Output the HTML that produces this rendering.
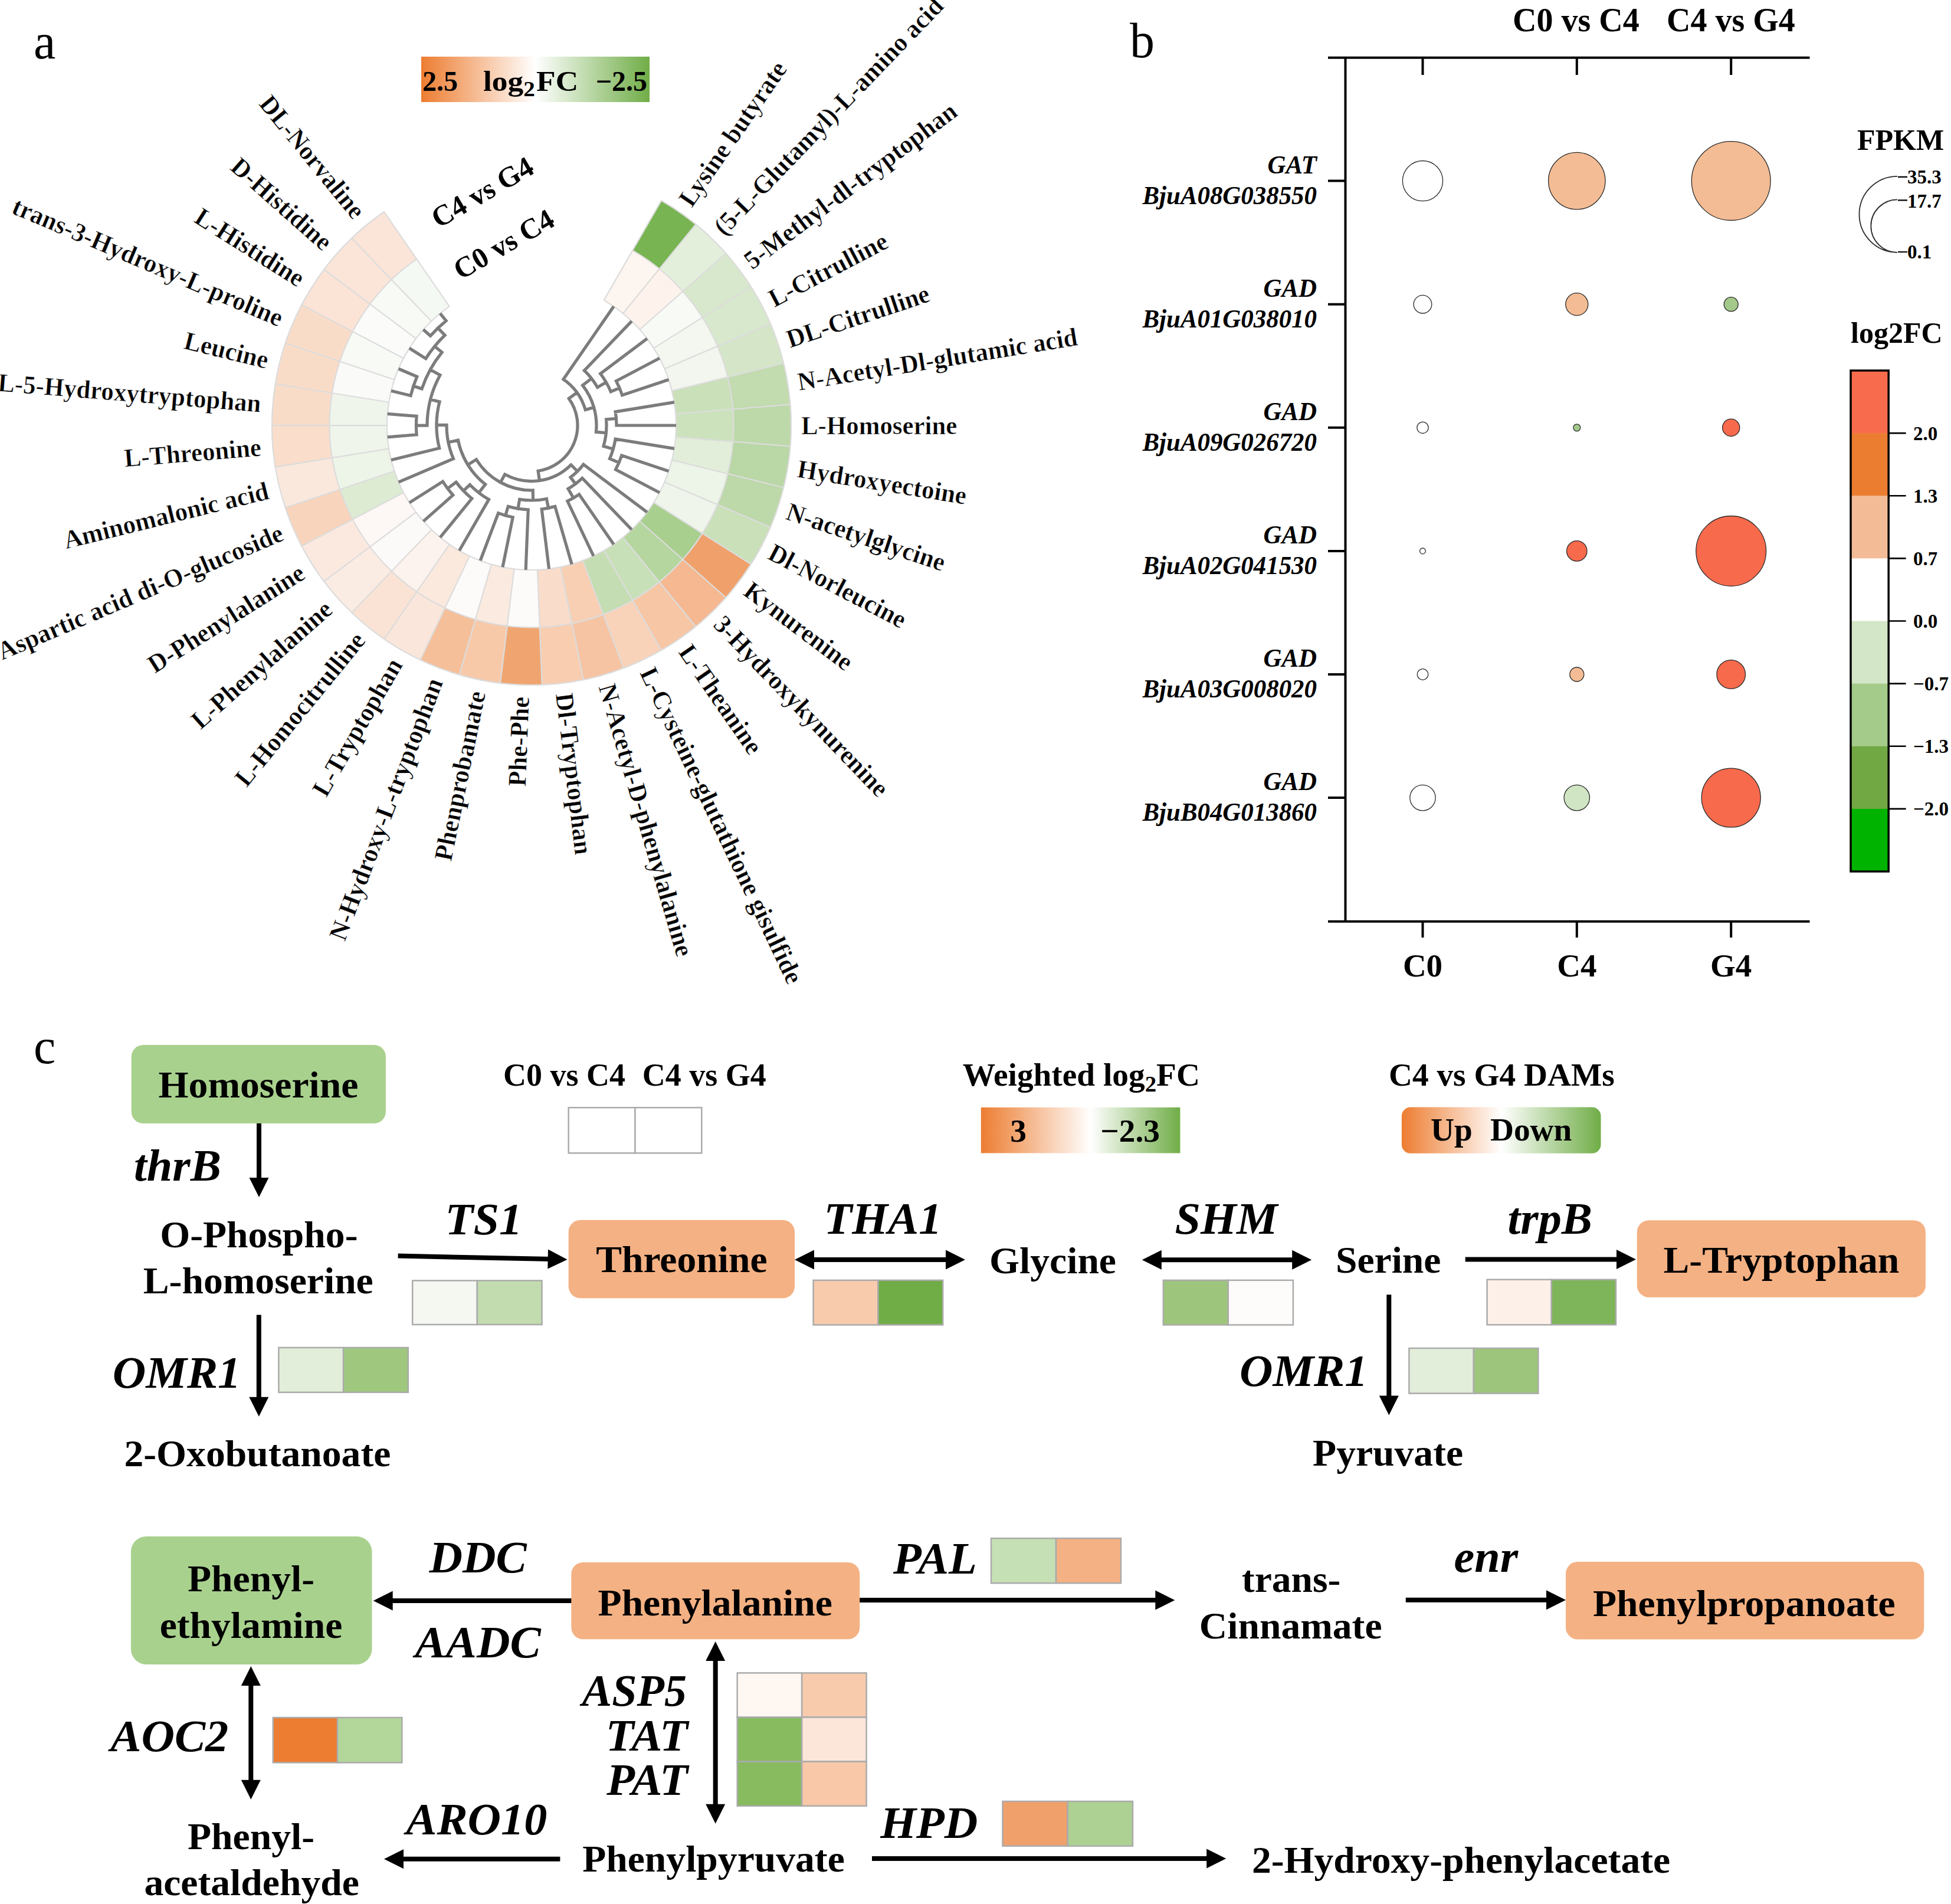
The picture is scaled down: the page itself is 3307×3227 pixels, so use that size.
<!DOCTYPE html>
<html><head><meta charset="utf-8"><title>Figure</title>
<style>
html,body{margin:0;padding:0;background:#fff;}
svg{display:block;}
text{font-family:"Liberation Serif",serif;font-weight:bold;fill:#000;}
.lb{stroke:#fff;stroke-width:0.6px;}
</style></head><body>
<svg width="3307" height="3227" viewBox="0 0 3307 3227">
<rect width="3307" height="3227" fill="#fff"/>
<path d="M1072.28 424.4A342.5 342.5 0 0 1 1117.63 455.71L1055.96 531.23A245 245 0 0 0 1023.52 508.83Z" fill="#FDF5EF"/>
<path d="M1121.03 339.97A440 440 0 0 1 1179.3 380.19L1117.63 455.71A342.5 342.5 0 0 0 1072.28 424.4Z" fill="#78B452"/>
<path d="M1117.63 455.71A342.5 342.5 0 0 1 1157.38 493.9L1084.39 558.55A245 245 0 0 0 1055.96 531.23Z" fill="#FDF3EC"/>
<path d="M1179.3 380.19A440 440 0 0 1 1230.36 429.25L1157.38 493.9A342.5 342.5 0 0 0 1117.63 455.71Z" fill="#E3EFDB"/>
<path d="M1157.38 493.9A342.5 342.5 0 0 1 1190.49 537.96L1108.08 590.07A245 245 0 0 0 1084.39 558.55Z" fill="#F8FAF6"/>
<path d="M1230.36 429.25A440 440 0 0 1 1272.89 485.85L1190.49 537.96A342.5 342.5 0 0 0 1157.38 493.9Z" fill="#D8E8CC"/>
<path d="M1190.49 537.96A342.5 342.5 0 0 1 1216.1 586.76L1126.4 624.98A245 245 0 0 0 1108.08 590.07Z" fill="#F3F7EF"/>
<path d="M1272.89 485.85A440 440 0 0 1 1305.8 548.55L1216.1 586.76A342.5 342.5 0 0 0 1190.49 537.96Z" fill="#D8E8CC"/>
<path d="M1216.1 586.76A342.5 342.5 0 0 1 1233.55 639.04L1138.88 662.37A245 245 0 0 0 1126.4 624.98Z" fill="#F2F6EE"/>
<path d="M1305.8 548.55A440 440 0 0 1 1328.22 615.71L1233.55 639.04A342.5 342.5 0 0 0 1216.1 586.76Z" fill="#D5E6C8"/>
<path d="M1233.55 639.04A342.5 342.5 0 0 1 1242.39 693.44L1145.21 701.29A245 245 0 0 0 1138.88 662.37Z" fill="#C9E0B9"/>
<path d="M1328.22 615.71A440 440 0 0 1 1339.57 685.6L1242.39 693.44A342.5 342.5 0 0 0 1233.55 639.04Z" fill="#C2DBAF"/>
<path d="M1242.39 693.44A342.5 342.5 0 0 1 1242.39 748.56L1145.21 740.71A245 245 0 0 0 1145.21 701.29Z" fill="#CCE2BD"/>
<path d="M1339.57 685.6A440 440 0 0 1 1339.57 756.4L1242.39 748.56A342.5 342.5 0 0 0 1242.39 693.44Z" fill="#BDD9A9"/>
<path d="M1242.39 748.56A342.5 342.5 0 0 1 1233.55 802.96L1138.88 779.63A245 245 0 0 0 1145.21 740.71Z" fill="#E2EED9"/>
<path d="M1339.57 756.4A440 440 0 0 1 1328.22 826.29L1233.55 802.96A342.5 342.5 0 0 0 1242.39 748.56Z" fill="#BAD7A6"/>
<path d="M1233.55 802.96A342.5 342.5 0 0 1 1216.1 855.24L1126.4 817.02A245 245 0 0 0 1138.88 779.63Z" fill="#EDF4E8"/>
<path d="M1328.22 826.29A440 440 0 0 1 1305.8 893.45L1216.1 855.24A342.5 342.5 0 0 0 1233.55 802.96Z" fill="#BDD8A9"/>
<path d="M1216.1 855.24A342.5 342.5 0 0 1 1190.49 904.04L1108.08 851.93A245 245 0 0 0 1126.4 817.02Z" fill="#EFF5EB"/>
<path d="M1305.8 893.45A440 440 0 0 1 1272.89 956.15L1190.49 904.04A342.5 342.5 0 0 0 1216.1 855.24Z" fill="#C9E0B9"/>
<path d="M1190.49 904.04A342.5 342.5 0 0 1 1157.38 948.1L1084.39 883.45A245 245 0 0 0 1108.08 851.93Z" fill="#A9CF8F"/>
<path d="M1272.89 956.15A440 440 0 0 1 1230.36 1012.75L1157.38 948.1A342.5 342.5 0 0 0 1190.49 904.04Z" fill="#F0A06A"/>
<path d="M1157.38 948.1A342.5 342.5 0 0 1 1117.63 986.29L1055.96 910.77A245 245 0 0 0 1084.39 883.45Z" fill="#B5D69F"/>
<path d="M1230.36 1012.75A440 440 0 0 1 1179.3 1061.81L1117.63 986.29A342.5 342.5 0 0 0 1157.38 948.1Z" fill="#F5B890"/>
<path d="M1117.63 986.29A342.5 342.5 0 0 1 1072.28 1017.6L1023.52 933.17A245 245 0 0 0 1055.96 910.77Z" fill="#C8E0B8"/>
<path d="M1179.3 1061.81A440 440 0 0 1 1121.03 1102.03L1072.28 1017.6A342.5 342.5 0 0 0 1117.63 986.29Z" fill="#F7C6A5"/>
<path d="M1072.28 1017.6A342.5 342.5 0 0 1 1022.48 1041.23L987.9 950.07A245 245 0 0 0 1023.52 933.17Z" fill="#C4DDB2"/>
<path d="M1121.03 1102.03A440 440 0 0 1 1057.07 1132.39L1022.48 1041.23A342.5 342.5 0 0 0 1072.28 1017.6Z" fill="#F8D2B9"/>
<path d="M1022.48 1041.23A342.5 342.5 0 0 1 969.55 1056.57L950.03 961.04A245 245 0 0 0 987.9 950.07Z" fill="#F8CFB3"/>
<path d="M1057.07 1132.39A440 440 0 0 1 989.06 1152.1L969.55 1056.57A342.5 342.5 0 0 0 1022.48 1041.23Z" fill="#F6C4A3"/>
<path d="M969.55 1056.57A342.5 342.5 0 0 1 914.83 1063.22L910.9 965.8A245 245 0 0 0 950.03 961.04Z" fill="#F9DCCA"/>
<path d="M989.06 1152.1A440 440 0 0 1 918.77 1160.64L914.83 1063.22A342.5 342.5 0 0 0 969.55 1056.57Z" fill="#F8CDB0"/>
<path d="M914.83 1063.22A342.5 342.5 0 0 1 859.76 1061.01L871.5 964.22A245 245 0 0 0 910.9 965.8Z" fill="#FDFBFA"/>
<path d="M918.77 1160.64A440 440 0 0 1 848.03 1157.8L859.76 1061.01A342.5 342.5 0 0 0 914.83 1063.22Z" fill="#F0A570"/>
<path d="M859.76 1061.01A342.5 342.5 0 0 1 805.76 1049.99L832.87 956.34A245 245 0 0 0 871.5 964.22Z" fill="#FBEADF"/>
<path d="M848.03 1157.8A440 440 0 0 1 778.65 1143.65L805.76 1049.99A342.5 342.5 0 0 0 859.76 1061.01Z" fill="#F7C9A9"/>
<path d="M805.76 1049.99A342.5 342.5 0 0 1 754.22 1030.46L796.01 942.36A245 245 0 0 0 832.87 956.34Z" fill="#FCFBFA"/>
<path d="M778.65 1143.65A440 440 0 0 1 712.44 1118.55L754.22 1030.46A342.5 342.5 0 0 0 805.76 1049.99Z" fill="#F5BF9A"/>
<path d="M754.22 1030.46A342.5 342.5 0 0 1 706.49 1002.91L761.86 922.66A245 245 0 0 0 796.01 942.36Z" fill="#FBE9DD"/>
<path d="M712.44 1118.55A440 440 0 0 1 651.12 1083.16L706.49 1002.91A342.5 342.5 0 0 0 754.22 1030.46Z" fill="#FAE6DA"/>
<path d="M706.49 1002.91A342.5 342.5 0 0 1 663.79 968.06L731.32 897.73A245 245 0 0 0 761.86 922.66Z" fill="#FCF3EE"/>
<path d="M651.12 1083.16A440 440 0 0 1 596.26 1038.39L663.79 968.06A342.5 342.5 0 0 0 706.49 1002.91Z" fill="#FAE3D5"/>
<path d="M663.79 968.06A342.5 342.5 0 0 1 627.23 926.81L705.17 868.22A245 245 0 0 0 731.32 897.73Z" fill="#FCFAF8"/>
<path d="M596.26 1038.39A440 440 0 0 1 549.3 985.4L627.23 926.81A342.5 342.5 0 0 0 663.79 968.06Z" fill="#FBECE3"/>
<path d="M627.23 926.81A342.5 342.5 0 0 1 597.77 880.23L684.09 834.91A245 245 0 0 0 705.17 868.22Z" fill="#FDF8F5"/>
<path d="M549.3 985.4A440 440 0 0 1 511.44 925.56L597.77 880.23A342.5 342.5 0 0 0 627.23 926.81Z" fill="#FBE9DF"/>
<path d="M597.77 880.23A342.5 342.5 0 0 1 576.15 829.54L668.63 798.64A245 245 0 0 0 684.09 834.91Z" fill="#DDEBD3"/>
<path d="M511.44 925.56A440 440 0 0 1 483.68 860.43L576.15 829.54A342.5 342.5 0 0 0 597.77 880.23Z" fill="#F8D4BC"/>
<path d="M576.15 829.54A342.5 342.5 0 0 1 562.95 776.02L659.18 760.36A245 245 0 0 0 668.63 798.64Z" fill="#EDF4E8"/>
<path d="M483.68 860.43A440 440 0 0 1 466.72 791.69L562.95 776.02A342.5 342.5 0 0 0 576.15 829.54Z" fill="#FBE8DC"/>
<path d="M562.95 776.02A342.5 342.5 0 0 1 558.5 721.09L656 721.06A245 245 0 0 0 659.18 760.36Z" fill="#EFF5EB"/>
<path d="M466.72 791.69A440 440 0 0 1 461 721.12L558.5 721.09A342.5 342.5 0 0 0 562.95 776.02Z" fill="#FADDCB"/>
<path d="M558.5 721.09A342.5 342.5 0 0 1 562.92 666.15L659.16 681.77A245 245 0 0 0 656 721.06Z" fill="#F0F5EC"/>
<path d="M461 721.12A440 440 0 0 1 466.68 650.54L562.92 666.15A342.5 342.5 0 0 0 558.5 721.09Z" fill="#F9DCC8"/>
<path d="M562.92 666.15A342.5 342.5 0 0 1 576.09 612.63L668.59 643.48A245 245 0 0 0 659.16 681.77Z" fill="#FAFBF9"/>
<path d="M466.68 650.54A440 440 0 0 1 483.6 581.79L576.09 612.63A342.5 342.5 0 0 0 562.92 666.15Z" fill="#F9DCC8"/>
<path d="M576.09 612.63A342.5 342.5 0 0 1 597.68 561.92L684.03 607.21A245 245 0 0 0 668.59 643.48Z" fill="#F8FAF6"/>
<path d="M483.6 581.79A440 440 0 0 1 511.34 516.64L597.68 561.92A342.5 342.5 0 0 0 576.09 612.63Z" fill="#F9DCC8"/>
<path d="M597.68 561.92A342.5 342.5 0 0 1 627.13 515.33L705.09 573.88A245 245 0 0 0 684.03 607.21Z" fill="#FBFBFA"/>
<path d="M511.34 516.64A440 440 0 0 1 549.16 456.78L627.13 515.33A342.5 342.5 0 0 0 597.68 561.92Z" fill="#FBE3D5"/>
<path d="M627.13 515.33A342.5 342.5 0 0 1 663.66 474.07L731.22 544.36A245 245 0 0 0 705.09 573.88Z" fill="#F8FAF6"/>
<path d="M549.16 456.78A440 440 0 0 1 596.1 403.77L663.66 474.07A342.5 342.5 0 0 0 627.13 515.33Z" fill="#FBE5D8"/>
<path d="M663.66 474.07A342.5 342.5 0 0 1 706.34 439.19L761.76 519.42A245 245 0 0 0 731.22 544.36Z" fill="#F5F9F3"/>
<path d="M596.1 403.77A440 440 0 0 1 650.93 358.97L706.34 439.19A342.5 342.5 0 0 0 663.66 474.07Z" fill="#FBE5D8"/>
<path d="M1023.52 508.83L1121.03 339.97M1055.96 531.23L1179.3 380.19M1084.39 558.55L1230.36 429.25M1108.08 590.07L1272.89 485.85M1126.4 624.98L1305.8 548.55M1138.88 662.37L1328.22 615.71M1145.21 701.29L1339.57 685.6M1145.21 740.71L1339.57 756.4M1138.88 779.63L1328.22 826.29M1126.4 817.02L1305.8 893.45M1108.08 851.93L1272.89 956.15M1084.39 883.45L1230.36 1012.75M1055.96 910.77L1179.3 1061.81M1023.52 933.17L1121.03 1102.03M987.9 950.07L1057.07 1132.39M950.03 961.04L989.06 1152.1M910.9 965.8L918.77 1160.64M871.5 964.22L848.03 1157.8M832.87 956.34L778.65 1143.65M796.01 942.36L712.44 1118.55M761.86 922.66L651.12 1083.16M731.32 897.73L596.26 1038.39M705.17 868.22L549.3 985.4M684.09 834.91L511.44 925.56M668.63 798.64L483.68 860.43M659.18 760.36L466.72 791.69M656 721.06L461 721.12M659.16 681.77L466.68 650.54M668.59 643.48L483.6 581.79M684.03 607.21L511.34 516.64M705.09 573.88L549.16 456.78M731.22 544.36L596.1 403.77M761.76 519.42L650.93 358.97M1023.52 508.83A245 245 0 1 1 761.76 519.42M1072.28 424.4A342.5 342.5 0 1 1 706.34 439.19M1121.03 339.97A440 440 0 1 1 650.93 358.97" fill="none" stroke="#DCDCDC" stroke-width="2.2"/>
<path d="M954.97 642.82L1038.77 521.44M990.37 627.97L1069 546.12M1017.72 633.3L1094.87 575.33M1044.45 645.72L1115.73 608.31M1054.66 669.7L1131.02 644.21M1044.45 645.72A162 162 0 0 1 1054.66 669.7M1035.32 663.78L1050.04 657.51M1017.72 633.3A146 146 0 0 1 1035.32 663.78M1012.72 656.5L1027.44 648.01M990.37 627.97A129 129 0 0 1 1012.72 656.5M987.59 653.17L1002.55 641.45M1043.14 697.9L1140.36 682.1M1045 721L1143.5 721M1043.14 697.9A144 144 0 0 1 1045 721M1027.59 710.78L1044.53 709.41M1043.14 744.1L1140.36 759.9M1053.72 771.98L1131.02 797.79M1043.56 795.81L1115.73 833.69M1053.72 771.98A161 161 0 0 1 1043.56 795.81M1033.48 777.44L1049.12 784.1M1043.14 744.1A144 144 0 0 1 1033.48 777.44M1022.99 756.33L1039.32 761.06M1027.59 710.78A127 127 0 0 1 1022.99 756.33M1010.44 732.06L1027.36 733.77M987.59 653.17A110 110 0 0 1 1010.44 732.06M992.25 694.57L1006.66 690.4M954.97 642.82A95 95 0 0 1 992.25 694.57M964.29 675.41L978.08 665.47M988.94 787.08L1094.87 866.67M986.9 810.42L1069 895.88M981.67 837.86L1038.77 920.56M961.89 849.28L1004.98 940.08M981.67 837.86A142 142 0 0 1 961.89 849.28M963.01 828.38L972.01 843.97M986.9 810.42A124 124 0 0 1 963.01 828.38M967.09 808.93L975.5 820.13M988.94 787.08A110 110 0 0 1 967.09 808.93M967.83 787.82L978.79 798.78M696.12 670.56L665.53 663.03M706.86 638.35L677.88 626.01M696.12 670.56A211 211 0 0 1 706.86 638.35M715.07 658.99L700.84 654.24M721.78 607.75L696 591.46M729.54 569.2L719.43 560.25M756.11 543.66L747.57 533.21M729.54 569.2A229 229 0 0 1 756.11 543.66M754.09 568.15L742.31 555.9M721.78 607.75A212 212 0 0 1 754.09 568.15M749.14 597.09L736.74 586.97M715.07 658.99A196 196 0 0 1 749.14 597.09M745.94 635.65L729.29 626.49M706.14 736.78L659.29 740.57M706.13 705.32L659.28 701.55M706.14 736.78A195.5 195.5 0 0 1 706.13 705.32M724 721.05L705.5 721.05M724 721.05A177 177 0 0 1 745.94 635.65M745.06 680.94L729.57 676.96M744.69 759.57L665.56 779.09M744.69 759.57A161 161 0 0 1 745.06 680.94M757 720.31L740 720.23M768.54 777.47L677.93 816.1M768.54 777.47A144 144 0 0 1 757 720.31M776.51 746.12L759.85 749.48M828.52 846.59L779.79 931.03M799.83 844.96L747.67 908.87M767.79 839.06L719.52 881.84M750.58 816.17L696.07 850.65M767.79 839.06A178 178 0 0 1 750.58 816.17M773.11 817.15L758.72 827.96M799.83 844.96A160 160 0 0 1 773.11 817.15M796.45 821.47L785.63 831.86M828.52 846.59A145 145 0 0 1 796.45 821.47M822.7 820.99L811.6 835.16M822.7 820.99A127 127 0 0 1 776.51 746.12M807.38 778.75L792.91 787.68M940.8 858.35L968.49 953.92M918.25 862.96L930.26 961.73M940.8 858.35A143 143 0 0 1 918.25 862.96M926.42 845.43L929.62 861.11M895.26 863.88L891.27 963.3M869.22 876.79L852.53 958.61M844.64 869.68L815.04 947.76M869.22 876.79A159 159 0 0 1 844.64 869.68M861.24 858.36L856.79 873.73M895.26 863.88A143 143 0 0 1 861.24 858.36M880.65 846.36L878.08 862.15M926.42 845.43A127 127 0 0 1 880.65 846.36M903.23 830.98L903.57 847.97M903.23 830.98A110 110 0 0 1 807.38 778.75M855.79 803.98L848.37 817.59M967.83 787.82A94.5 94.5 0 0 1 855.79 803.98M912.14 798.2L914.49 814.53M964.29 675.41A78 78 0 0 1 912.14 798.2" fill="none" stroke="#7C7C7C" stroke-width="5.2" stroke-linejoin="miter" stroke-linecap="square"/>
<text transform="rotate(-55.38 901 721) translate(1358 735.5) scale(0.975 1)" font-size="44" class="lb">Lysine butyrate</text>
<text transform="rotate(-46.15 901 721) translate(1358 735.5) scale(0.975 1)" font-size="44" class="lb">(5-L-Glutamyl)-L-amino acid</text>
<text transform="rotate(-36.92 901 721) translate(1358 735.5) scale(0.975 1)" font-size="44" class="lb">5-Methyl-dl-tryptophan</text>
<text transform="rotate(-27.69 901 721) translate(1358 735.5) scale(0.975 1)" font-size="44" class="lb">L-Citrulline</text>
<text transform="rotate(-18.46 901 721) translate(1358 735.5) scale(0.975 1)" font-size="44" class="lb">DL-Citrulline</text>
<text transform="rotate(-9.23 901 721) translate(1358 735.5) scale(0.975 1)" font-size="44" class="lb">N-Acetyl-Dl-glutamic acid</text>
<text transform="rotate(0 901 721) translate(1358 735.5) scale(0.975 1)" font-size="44" class="lb">L-Homoserine</text>
<text transform="rotate(9.23 901 721) translate(1358 735.5) scale(0.975 1)" font-size="44" class="lb">Hydroxyectoine</text>
<text transform="rotate(18.46 901 721) translate(1358 735.5) scale(0.975 1)" font-size="44" class="lb">N-acetylglycine</text>
<text transform="rotate(27.69 901 721) translate(1358 735.5) scale(0.975 1)" font-size="44" class="lb">Dl-Norleucine</text>
<text transform="rotate(36.92 901 721) translate(1358 735.5) scale(0.975 1)" font-size="44" class="lb">Kynurenine</text>
<text transform="rotate(46.15 901 721) translate(1358 735.5) scale(0.975 1)" font-size="44" class="lb">3-Hydroxykynurenine</text>
<text transform="rotate(55.38 901 721) translate(1358 735.5) scale(0.975 1)" font-size="44" class="lb">L-Theanine</text>
<text transform="rotate(64.61 901 721) translate(1358 735.5) scale(0.975 1)" font-size="44" class="lb">L-Cysteine-glutathione gisulfide</text>
<text transform="rotate(73.84 901 721) translate(1358 735.5) scale(0.975 1)" font-size="44" class="lb">N-Acetyl-D-phenylalanine</text>
<text transform="rotate(83.07 901 721) translate(1358 735.5) scale(0.975 1)" font-size="44" class="lb">Dl-Tryptophan</text>
<text transform="rotate(-87.7 901 721) translate(441 735.5) scale(0.975 1)" font-size="44" text-anchor="end" class="lb">Phe-Phe</text>
<text transform="rotate(-78.47 901 721) translate(441 735.5) scale(0.975 1)" font-size="44" text-anchor="end" class="lb">Phenprobamate</text>
<text transform="rotate(-69.24 901 721) translate(441 735.5) scale(0.975 1)" font-size="44" text-anchor="end" class="lb">N-Hydroxy-L-tryptophan</text>
<text transform="rotate(-60.01 901 721) translate(441 735.5) scale(0.975 1)" font-size="44" text-anchor="end" class="lb">L-Tryptophan</text>
<text transform="rotate(-50.78 901 721) translate(441 735.5) scale(0.975 1)" font-size="44" text-anchor="end" class="lb">L-Homocitrulline</text>
<text transform="rotate(-41.55 901 721) translate(441 735.5) scale(0.975 1)" font-size="44" text-anchor="end" class="lb">L-Phenylalanine</text>
<text transform="rotate(-32.32 901 721) translate(441 735.5) scale(0.975 1)" font-size="44" text-anchor="end" class="lb">D-Phenylalanine</text>
<text transform="rotate(-23.09 901 721) translate(441 735.5) scale(0.975 1)" font-size="44" text-anchor="end" class="lb">Aspartic acid di-O-glucoside</text>
<text transform="rotate(-13.86 901 721) translate(441 735.5) scale(0.975 1)" font-size="44" text-anchor="end" class="lb">Aminomalonic acid</text>
<text transform="rotate(-4.63 901 721) translate(441 735.5) scale(0.975 1)" font-size="44" text-anchor="end" class="lb">L-Threonine</text>
<text transform="rotate(4.6 901 721) translate(441 735.5) scale(0.975 1)" font-size="44" text-anchor="end" class="lb">L-5-Hydroxytryptophan</text>
<text transform="rotate(13.83 901 721) translate(441 735.5) scale(0.975 1)" font-size="44" text-anchor="end" class="lb">Leucine</text>
<text transform="rotate(23.06 901 721) translate(441 735.5) scale(0.975 1)" font-size="44" text-anchor="end" class="lb">trans-3-Hydroxy-L-proline</text>
<text transform="rotate(32.29 901 721) translate(441 735.5) scale(0.975 1)" font-size="44" text-anchor="end" class="lb">L-Histidine</text>
<text transform="rotate(41.52 901 721) translate(441 735.5) scale(0.975 1)" font-size="44" text-anchor="end" class="lb">D-Histidine</text>
<text transform="rotate(50.75 901 721) translate(441 735.5) scale(0.975 1)" font-size="44" text-anchor="end" class="lb">DL-Norvaline</text>
<text x="57" y="99" font-size="84" font-weight="normal" style="font-weight:normal">a</text>
<defs><linearGradient id="lgA" x1="0" x2="1" y1="0" y2="0"><stop offset="0" stop-color="#ED7D31"/><stop offset="0.5" stop-color="#FFFFFF"/><stop offset="1" stop-color="#70AD47"/></linearGradient></defs>
<rect x="714" y="96" width="387" height="77" fill="url(#lgA)"/>
<text x="716" y="153.5" font-size="48">2.5</text>
<text transform="matrix(1.09 0 0 1 819 153.5)" font-size="49">log<tspan font-size="36" dy="9">2</tspan><tspan dy="-9" dx="2">FC</tspan></text>
<text x="1097" y="153.5" font-size="48" text-anchor="end">−2.5</text>
<text transform="rotate(-30 817.7 325.8)" x="817.7" y="342" font-size="49" text-anchor="middle">C4 vs G4</text>
<text transform="rotate(-30 853.9 414.1)" x="853.9" y="430.3" font-size="49" text-anchor="middle">C0 vs C4</text>
<text x="1915" y="97" font-size="84" style="font-weight:normal">b</text>
<text x="2564" y="53" font-size="56">C0 vs C4</text>
<text x="2825" y="53" font-size="56">C4 vs G4</text>
<path d="M2251 97.8H3067.5M2251 1561.7H3067.5M2280.5 95.8V1563.7M2411.5 97.8V127M2411.5 1561.7V1589M2672.8 97.8V127M2672.8 1561.7V1589M2934.2 97.8V127M2934.2 1561.7V1589M2251 306.6H2280.5M2251 515.7H2280.5M2251 724.8H2280.5M2251 933.9H2280.5M2251 1143.0H2280.5M2251 1352.1H2280.5" stroke="#000" stroke-width="4" fill="none"/>
<text transform="matrix(0.975 0 0 1 2232 293.6)" font-size="44" font-style="italic" text-anchor="end">GAT</text>
<text transform="matrix(0.975 0 0 1 2232 345.6)" font-size="44" font-style="italic" text-anchor="end">BjuA08G038550</text>
<text transform="matrix(0.975 0 0 1 2232 502.7)" font-size="44" font-style="italic" text-anchor="end">GAD</text>
<text transform="matrix(0.975 0 0 1 2232 554.7)" font-size="44" font-style="italic" text-anchor="end">BjuA01G038010</text>
<text transform="matrix(0.975 0 0 1 2232 711.8)" font-size="44" font-style="italic" text-anchor="end">GAD</text>
<text transform="matrix(0.975 0 0 1 2232 763.8)" font-size="44" font-style="italic" text-anchor="end">BjuA09G026720</text>
<text transform="matrix(0.975 0 0 1 2232 920.9)" font-size="44" font-style="italic" text-anchor="end">GAD</text>
<text transform="matrix(0.975 0 0 1 2232 972.9)" font-size="44" font-style="italic" text-anchor="end">BjuA02G041530</text>
<text transform="matrix(0.975 0 0 1 2232 1130.0)" font-size="44" font-style="italic" text-anchor="end">GAD</text>
<text transform="matrix(0.975 0 0 1 2232 1182.0)" font-size="44" font-style="italic" text-anchor="end">BjuA03G008020</text>
<text transform="matrix(0.975 0 0 1 2232 1339.1)" font-size="44" font-style="italic" text-anchor="end">GAD</text>
<text transform="matrix(0.975 0 0 1 2232 1391.1)" font-size="44" font-style="italic" text-anchor="end">BjuB04G013860</text>
<text x="2411.5" y="1655" font-size="55" text-anchor="middle">C0</text>
<text x="2672.8" y="1655" font-size="55" text-anchor="middle">C4</text>
<text x="2934.2" y="1655" font-size="55" text-anchor="middle">G4</text>
<circle cx="2411.5" cy="306.6" r="34.1" fill="#FFFFFF" stroke="#2b2b2b" stroke-width="1.3"/>
<circle cx="2672.8" cy="306.6" r="48.2" fill="#F4BC94" stroke="#2b2b2b" stroke-width="1.3"/>
<circle cx="2934.2" cy="306.6" r="66.9" fill="#F4BC94" stroke="#2b2b2b" stroke-width="1.3"/>
<circle cx="2411.5" cy="515.7" r="15.3" fill="#FFFFFF" stroke="#2b2b2b" stroke-width="1.3"/>
<circle cx="2672.8" cy="515.7" r="19.0" fill="#F4BC94" stroke="#2b2b2b" stroke-width="1.3"/>
<circle cx="2934.2" cy="515.7" r="12.0" fill="#A3C98A" stroke="#2b2b2b" stroke-width="1.3"/>
<circle cx="2411.5" cy="724.8" r="9.7" fill="#FFFFFF" stroke="#2b2b2b" stroke-width="1.3"/>
<circle cx="2672.8" cy="724.8" r="6.0" fill="#A3C98A" stroke="#2b2b2b" stroke-width="1.3"/>
<circle cx="2934.2" cy="724.8" r="14.6" fill="#F76A4C" stroke="#2b2b2b" stroke-width="1.3"/>
<circle cx="2411.5" cy="933.9" r="4.9" fill="#FFFFFF" stroke="#2b2b2b" stroke-width="1.3"/>
<circle cx="2672.8" cy="933.9" r="17.2" fill="#F76A4C" stroke="#2b2b2b" stroke-width="1.3"/>
<circle cx="2934.2" cy="933.9" r="59.4" fill="#F76A4C" stroke="#2b2b2b" stroke-width="1.3"/>
<circle cx="2411.5" cy="1143.0" r="9.3" fill="#FFFFFF" stroke="#2b2b2b" stroke-width="1.3"/>
<circle cx="2672.8" cy="1143.0" r="12.0" fill="#F4BC94" stroke="#2b2b2b" stroke-width="1.3"/>
<circle cx="2934.2" cy="1143.0" r="24.3" fill="#F76A4C" stroke="#2b2b2b" stroke-width="1.3"/>
<circle cx="2411.5" cy="1352.1" r="21.7" fill="#FFFFFF" stroke="#2b2b2b" stroke-width="1.3"/>
<circle cx="2672.8" cy="1352.1" r="21.7" fill="#D0E5C3" stroke="#2b2b2b" stroke-width="1.3"/>
<circle cx="2934.2" cy="1352.1" r="50.0" fill="#F76A4C" stroke="#2b2b2b" stroke-width="1.3"/>
<text x="3148" y="253.5" font-size="50">FPKM</text>
<path d="M3216 298.8A64.5 64.5 0 0 0 3216 427.8M3216 338.4A44.7 44.7 0 0 0 3216 427.8" fill="none" stroke="#2b2b2b" stroke-width="1.8"/>
<path d="M3217 299.8H3233M3217 339.4H3233M3217 427H3233" stroke="#000" stroke-width="2.2"/>
<text x="3233" y="311" font-size="33">35.3</text>
<text x="3233" y="351.5" font-size="33">17.7</text>
<text x="3233" y="437.5" font-size="33">0.1</text>
<text x="3137" y="580.5" font-size="50">log2FC</text>
<rect x="3137" y="628.0" width="64.2" height="106.6" fill="#F96B4D"/>
<rect x="3137" y="734.1" width="64.2" height="106.6" fill="#EB7D31"/>
<rect x="3137" y="840.2" width="64.2" height="106.6" fill="#F4BC96"/>
<rect x="3137" y="946.4" width="64.2" height="106.6" fill="#FFFFFF"/>
<rect x="3137" y="1052.5" width="64.2" height="106.6" fill="#D3E6C7"/>
<rect x="3137" y="1158.6" width="64.2" height="106.6" fill="#A5CB8A"/>
<rect x="3137" y="1264.8" width="64.2" height="106.6" fill="#72A843"/>
<rect x="3137" y="1370.9" width="64.2" height="106.6" fill="#00B300"/>
<rect x="3137" y="628" width="64.2" height="849" fill="none" stroke="#000" stroke-width="3.5"/>
<text x="3243" y="745.6" font-size="33">2.0</text>
<text x="3243" y="851.8" font-size="33">1.3</text>
<text x="3243" y="957.9" font-size="33">0.7</text>
<text x="3243" y="1064.0" font-size="33">0.0</text>
<text x="3243" y="1170.1" font-size="33">−0.7</text>
<text x="3243" y="1276.2" font-size="33">−1.3</text>
<text x="3243" y="1382.4" font-size="33">−2.0</text>
<path d="M3203 734.1H3230.6M3203 840.2H3230.6M3203 946.4H3230.6M3203 1052.5H3230.6M3203 1158.6H3230.6M3203 1264.8H3230.6M3203 1370.9H3230.6" stroke="#000" stroke-width="2.6"/>
<text x="57" y="1802" font-size="84" style="font-weight:normal">c</text>
<defs><linearGradient id="lgC" x1="0" x2="1" y1="0" y2="0"><stop offset="0" stop-color="#ED7D31"/><stop offset="0.55" stop-color="#FFFFFF"/><stop offset="1" stop-color="#70AD47"/></linearGradient><linearGradient id="lgD" x1="0" x2="1" y1="0" y2="0"><stop offset="0" stop-color="#ED7D31"/><stop offset="0.5" stop-color="#FFFFFF"/><stop offset="1" stop-color="#70AD47"/></linearGradient></defs>
<rect x="222.7" y="1771.1" width="431.3" height="132.9" rx="20" fill="#A9D18E"/>
<text transform="matrix(1.025 0 0 1 438.0 1860.0)" font-size="64" text-anchor="middle">Homoserine</text>
<path d="M439.0 1904.0L439.0 2002.6" stroke="#000" stroke-width="8.0"/><path d="M439.0 2029.0L422.5 1996.0L455.5 1996.0Z" fill="#000"/>
<text transform="matrix(1.030 0 0 1 227.0 2000.5)" font-size="76" font-style="italic">thrB</text>
<text transform="matrix(1.025 0 0 1 438.8 2113.8)" font-size="64" text-anchor="middle">O-Phospho-</text>
<text transform="matrix(1.025 0 0 1 437.8 2191.7)" font-size="64" text-anchor="middle">L-homoserine</text>
<path d="M438.8 2228.6L438.8 2374.4" stroke="#000" stroke-width="8.0"/><path d="M438.8 2400.8L422.3 2367.8L455.3 2367.8Z" fill="#000"/>
<text transform="matrix(1.030 0 0 1 190.8 2351.6)" font-size="76" font-style="italic">OMR1</text>
<rect x="472.4" y="2284.0" width="109.7" height="75.8" fill="#E2EED9" stroke="#ABABAB" stroke-width="2.5"/><rect x="582.1" y="2284.0" width="109.7" height="75.8" fill="#9FC87E" stroke="#ABABAB" stroke-width="2.5"/>
<text transform="matrix(1.025 0 0 1 436.4 2484.9)" font-size="64" text-anchor="middle">2-Oxobutanoate</text>
<path d="M674.6 2128.5L935.2 2134.1" stroke="#000" stroke-width="8.0"/><path d="M961.6 2134.7L928.3 2150.5L929.0 2117.5Z" fill="#000"/>
<text transform="matrix(1.030 0 0 1 754.6 2091.6)" font-size="76" font-style="italic">TS1</text>
<rect x="699.2" y="2170.4" width="109.6" height="74.6" fill="#F4F8F1" stroke="#ABABAB" stroke-width="2.5"/><rect x="808.9" y="2170.4" width="109.6" height="74.6" fill="#C2DCAF" stroke="#ABABAB" stroke-width="2.5"/>
<text transform="matrix(1.000 0 0 1 853.0 1839.5)" font-size="54">C0 vs C4</text>
<text transform="matrix(1.000 0 0 1 1088.8 1839.5)" font-size="54">C4 vs G4</text>
<rect x="963.7" y="1877.2" width="112.8" height="77.1" fill="#FFFFFF" stroke="#ABABAB" stroke-width="2.5"/><rect x="1076.5" y="1877.2" width="112.8" height="77.1" fill="#FFFFFF" stroke="#ABABAB" stroke-width="2.5"/>
<rect x="963.7" y="2067.8" width="383.3" height="132.5" rx="20" fill="#F4B183"/>
<text transform="matrix(1.025 0 0 1 1155.4 2156.4)" font-size="64" text-anchor="middle">Threonine</text>
<path d="M1373.4 2135.0L1609.6 2135.0" stroke="#000" stroke-width="8.0"/><path d="M1636.0 2135.0L1603.0 2151.5L1603.0 2118.5Z" fill="#000"/><path d="M1347.0 2135.0L1380.0 2151.5L1380.0 2118.5Z" fill="#000"/>
<text transform="matrix(1.030 0 0 1 1396.4 2091.4)" font-size="76" font-style="italic">THA1</text>
<rect x="1378.6" y="2169.8" width="109.8" height="75.7" fill="#F8CBAD" stroke="#ABABAB" stroke-width="2.5"/><rect x="1488.4" y="2169.8" width="109.8" height="75.7" fill="#70AD47" stroke="#ABABAB" stroke-width="2.5"/>
<text transform="matrix(1.025 0 0 1 1631.7 1840.0)" font-size="54">Weighted log<tspan font-size="38" dy="10">2</tspan><tspan dy="-10">FC</tspan></text>
<rect x="1662.8" y="1876.9" width="337.6" height="77.5" fill="url(#lgC)"/>
<text transform="matrix(1.025 0 0 1 1726.0 1934.5)" font-size="54" text-anchor="middle">3</text>
<text transform="matrix(1.025 0 0 1 1966.0 1934.5)" font-size="54" text-anchor="end">−2.3</text>
<text transform="matrix(1.025 0 0 1 1784.5 2158.3)" font-size="64" text-anchor="middle">Glycine</text>
<path d="M1962.2 2135.2L2196.8 2135.2" stroke="#000" stroke-width="8.0"/><path d="M2223.2 2135.2L2190.2 2151.7L2190.2 2118.7Z" fill="#000"/><path d="M1935.8 2135.2L1968.8 2151.7L1968.8 2118.7Z" fill="#000"/>
<text transform="matrix(1.030 0 0 1 1991.5 2091.4)" font-size="76" font-style="italic">SHM</text>
<rect x="1971.8" y="2169.8" width="110.1" height="75.7" fill="#9DC67C" stroke="#ABABAB" stroke-width="2.5"/><rect x="2081.8" y="2169.8" width="110.1" height="75.7" fill="#FEFCFB" stroke="#ABABAB" stroke-width="2.5"/>
<text transform="matrix(1.025 0 0 1 2354.0 1839.6)" font-size="54">C4 vs G4 DAMs</text>
<rect x="2375.9" y="1876.5" width="337.6" height="78.3" rx="15" fill="url(#lgD)"/>
<text transform="matrix(1.025 0 0 1 2425.0 1933.2)" font-size="54">Up</text>
<text transform="matrix(1.025 0 0 1 2526.0 1933.2)" font-size="54">Down</text>
<text transform="matrix(1.025 0 0 1 2353.2 2157.3)" font-size="64" text-anchor="middle">Serine</text>
<path d="M2483.7 2134.6L2746.6 2134.6" stroke="#000" stroke-width="8.0"/><path d="M2773.0 2134.6L2740.0 2151.1L2740.0 2118.1Z" fill="#000"/>
<text transform="matrix(1.030 0 0 1 2555.5 2091.0)" font-size="76" font-style="italic">trpB</text>
<rect x="2520.6" y="2168.7" width="109.2" height="76.6" fill="#FDF0E8" stroke="#ABABAB" stroke-width="2.5"/><rect x="2629.8" y="2168.7" width="109.2" height="76.6" fill="#7EB55A" stroke="#ABABAB" stroke-width="2.5"/>
<rect x="2774.8" y="2068.2" width="489.1" height="130.5" rx="20" fill="#F4B183"/>
<text transform="matrix(1.025 0 0 1 3019.4 2157.3)" font-size="64" text-anchor="middle">L-Tryptophan</text>
<path d="M2354.3 2194.2L2354.3 2372.1" stroke="#000" stroke-width="8.0"/><path d="M2354.3 2398.5L2337.8 2365.5L2370.8 2365.5Z" fill="#000"/>
<text transform="matrix(1.030 0 0 1 2101.0 2349.0)" font-size="76" font-style="italic">OMR1</text>
<rect x="2388.4" y="2285.0" width="109.5" height="76.6" fill="#E2EED9" stroke="#ABABAB" stroke-width="2.5"/><rect x="2497.9" y="2285.0" width="109.5" height="76.6" fill="#9DC67C" stroke="#ABABAB" stroke-width="2.5"/>
<text transform="matrix(1.025 0 0 1 2352.6 2483.6)" font-size="64" text-anchor="middle">Pyruvate</text>
<rect x="221.9" y="2604.0" width="408.6" height="216.9" rx="26" fill="#A9D18E"/>
<text transform="matrix(1.025 0 0 1 425.5 2696.8)" font-size="64" text-anchor="middle">Phenyl-</text>
<text transform="matrix(1.025 0 0 1 425.5 2776.0)" font-size="64" text-anchor="middle">ethylamine</text>
<path d="M969.0 2712.9L659.1 2712.9" stroke="#000" stroke-width="8.0"/><path d="M632.7 2712.9L665.7 2696.4L665.7 2729.4Z" fill="#000"/>
<text transform="matrix(1.030 0 0 1 727.4 2665.0)" font-size="76" font-style="italic">DDC</text>
<text transform="matrix(1.030 0 0 1 703.5 2808.7)" font-size="76" font-style="italic">AADC</text>
<path d="M425.3 2850.4L425.3 3023.3" stroke="#000" stroke-width="8.0"/><path d="M425.3 3049.7L408.8 3016.7L441.8 3016.7Z" fill="#000"/><path d="M425.3 2824.0L408.8 2857.0L441.8 2857.0Z" fill="#000"/>
<text transform="matrix(1.030 0 0 1 187.2 2967.7)" font-size="76" font-style="italic">AOC2</text>
<rect x="462.8" y="2911.0" width="109.3" height="76.4" fill="#ED7D31" stroke="#ABABAB" stroke-width="2.5"/><rect x="572.1" y="2911.0" width="109.3" height="76.4" fill="#B3D69A" stroke="#ABABAB" stroke-width="2.5"/>
<text transform="matrix(1.025 0 0 1 425.5 3134.2)" font-size="64" text-anchor="middle">Phenyl-</text>
<text transform="matrix(1.025 0 0 1 426.6 3211.7)" font-size="64" text-anchor="middle">acetaldehyde</text>
<path d="M949.4 3150.7L677.4 3150.7" stroke="#000" stroke-width="8.0"/><path d="M651.0 3150.7L684.0 3134.2L684.0 3167.2Z" fill="#000"/>
<text transform="matrix(1.030 0 0 1 688.2 3109.4)" font-size="76" font-style="italic">ARO10</text>
<rect x="968.3" y="2647.9" width="488.9" height="130.4" rx="20" fill="#F4B183"/>
<text transform="matrix(1.025 0 0 1 1212.2 2737.6)" font-size="64" text-anchor="middle">Phenylalanine</text>
<path d="M1457.2 2712.0L1964.9 2712.0" stroke="#000" stroke-width="8.0"/><path d="M1991.3 2712.0L1958.3 2728.5L1958.3 2695.5Z" fill="#000"/>
<text transform="matrix(1.030 0 0 1 1513.9 2667.0)" font-size="76" font-style="italic">PAL</text>
<rect x="1680.0" y="2607.2" width="110.0" height="76.0" fill="#C5E0B4" stroke="#ABABAB" stroke-width="2.5"/><rect x="1790.0" y="2607.2" width="110.0" height="76.0" fill="#F4B183" stroke="#ABABAB" stroke-width="2.5"/>
<path d="M1212.7 2808.5L1212.7 3064.3" stroke="#000" stroke-width="8.0"/><path d="M1212.7 3090.7L1196.2 3057.7L1229.2 3057.7Z" fill="#000"/><path d="M1212.7 2782.1L1196.2 2815.1L1229.2 2815.1Z" fill="#000"/>
<text transform="matrix(1.000 0 0 1 1164.0 2890.8)" font-size="76" text-anchor="end" font-style="italic">ASP5</text>
<text transform="matrix(1.030 0 0 1 1166.0 2966.8)" font-size="76" text-anchor="end" font-style="italic">TAT</text>
<text transform="matrix(1.030 0 0 1 1166.0 3041.8)" font-size="76" text-anchor="end" font-style="italic">PAT</text>
<rect x="1249.7" y="2835.4" width="109.4" height="75.1" fill="#FFF7F2" stroke="#ABABAB" stroke-width="2.5"/><rect x="1359.2" y="2835.4" width="109.4" height="75.1" fill="#F8CBAD" stroke="#ABABAB" stroke-width="2.5"/><rect x="1249.7" y="2910.5" width="109.4" height="75.1" fill="#88BB60" stroke="#ABABAB" stroke-width="2.5"/><rect x="1359.2" y="2910.5" width="109.4" height="75.1" fill="#FCE6DA" stroke="#ABABAB" stroke-width="2.5"/><rect x="1249.7" y="2985.7" width="109.4" height="75.1" fill="#88BB60" stroke="#ABABAB" stroke-width="2.5"/><rect x="1359.2" y="2985.7" width="109.4" height="75.1" fill="#F8C8A8" stroke="#ABABAB" stroke-width="2.5"/>
<text transform="matrix(1.025 0 0 1 1209.5 3172.2)" font-size="64" text-anchor="middle">Phenylpyruvate</text>
<path d="M1478.0 3150.0L2051.8 3150.0" stroke="#000" stroke-width="8.0"/><path d="M2078.2 3150.0L2045.2 3166.5L2045.2 3133.5Z" fill="#000"/>
<text transform="matrix(1.030 0 0 1 1492.2 3115.0)" font-size="76" font-style="italic">HPD</text>
<rect x="1699.5" y="3053.0" width="110.2" height="75.7" fill="#F0A06A" stroke="#ABABAB" stroke-width="2.5"/><rect x="1809.8" y="3053.0" width="110.2" height="75.7" fill="#ADD093" stroke="#ABABAB" stroke-width="2.5"/>
<text transform="matrix(1.025 0 0 1 2121.9 3173.5)" font-size="64">2-Hydroxy-phenylacetate</text>
<text transform="matrix(1.025 0 0 1 2188.6 2697.5)" font-size="64" text-anchor="middle">trans-</text>
<text transform="matrix(1.025 0 0 1 2187.7 2776.5)" font-size="64" text-anchor="middle">Cinnamate</text>
<path d="M2382.8 2711.8L2627.6 2711.8" stroke="#000" stroke-width="8.0"/><path d="M2654.0 2711.8L2621.0 2728.3L2621.0 2695.3Z" fill="#000"/>
<text transform="matrix(1.030 0 0 1 2464.6 2664.2)" font-size="76" font-style="italic">enr</text>
<rect x="2654.0" y="2647.1" width="607.3" height="131.3" rx="20" fill="#F4B183"/>
<text transform="matrix(1.025 0 0 1 2956.3 2738.5)" font-size="64" text-anchor="middle">Phenylpropanoate</text></svg>
</body></html>
